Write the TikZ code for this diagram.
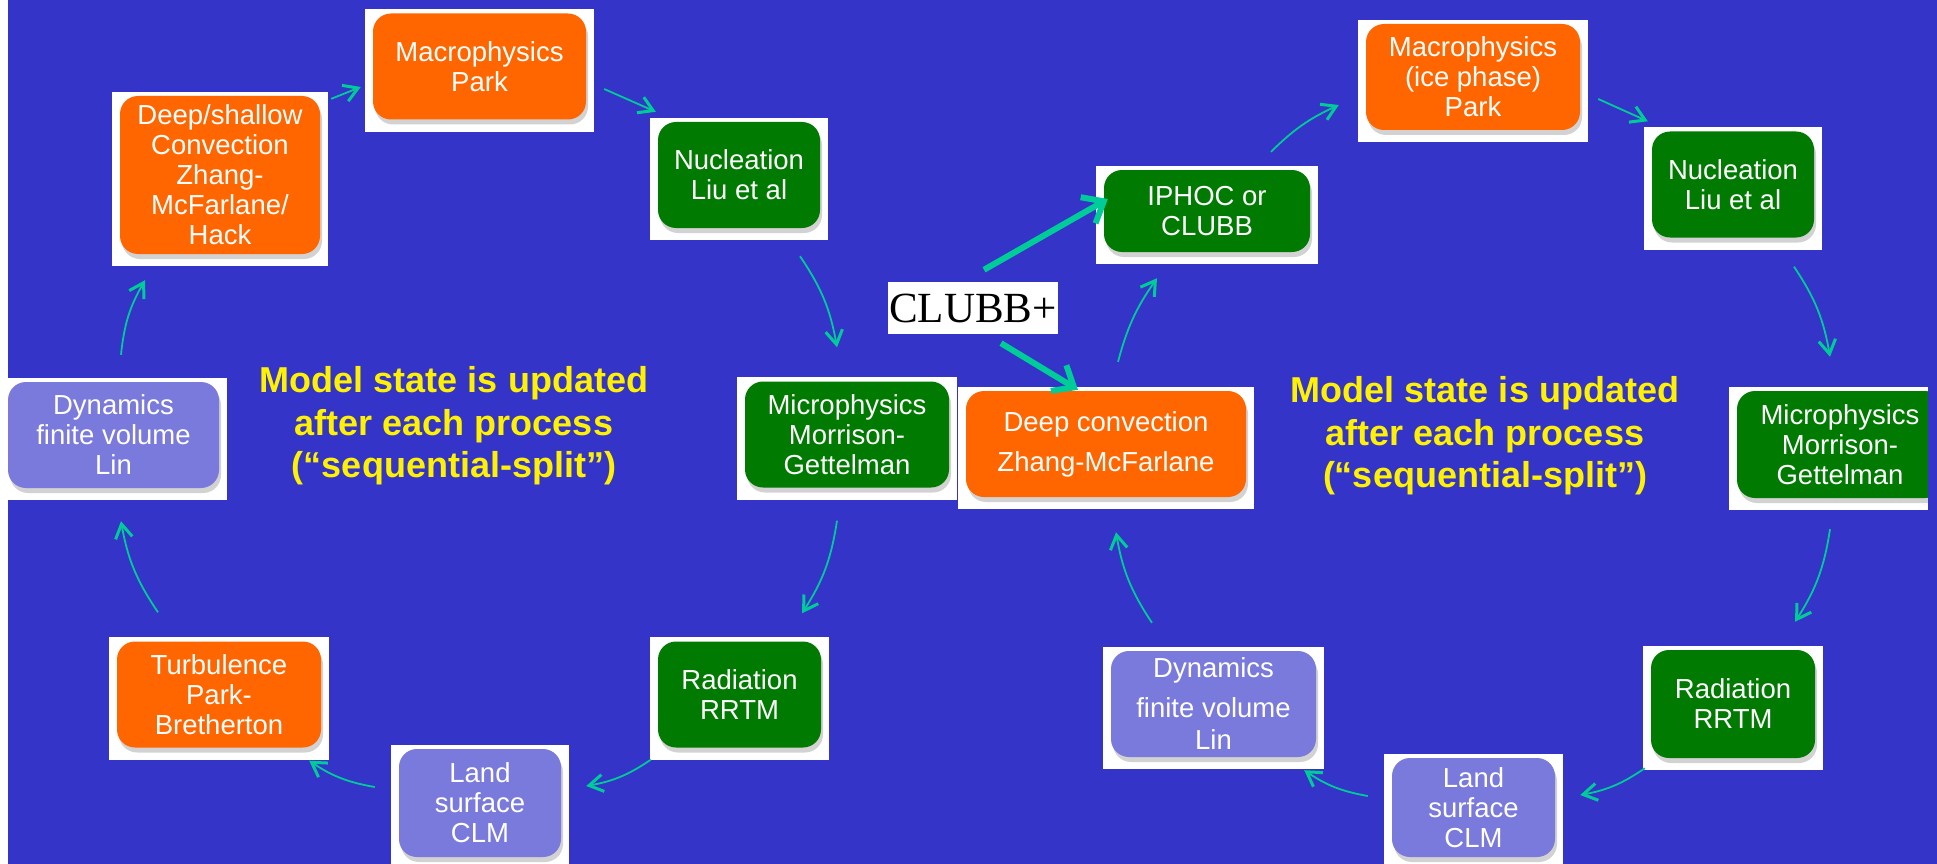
\documentclass[tikz,border=0pt]{standalone}
\usepackage{fontspec}
\setmainfont{Liberation Sans}
\newfontfamily\clubbfont{Liberation Serif}
\usetikzlibrary{arrows.meta,shadows,backgrounds}

\definecolor{slideblue}{RGB}{52,52,200}
\definecolor{boxorange}{RGB}{255,102,0}
\definecolor{boxgreen}{RGB}{0,122,0}
\definecolor{boxlilac}{RGB}{122,122,220}
\definecolor{arrowteal}{RGB}{0,204,153}
\newcommand\procfont{\fontsize{27.5}{30}\selectfont}
\newcommand\notefont{\fontsize{36}{42.5}\selectfont\bfseries}

\begin{document}
\begin{tikzpicture}[x=1pt,y=-1pt]
   \useasboundingbox (0,0) rectangle (1937,864);
   \tikzstyle{proc}=[rounded corners=18pt, minimum height=106pt, inner sep=2pt, text=white, font=\procfont, align=center, drop shadow={shadow xshift=2pt, shadow yshift=-5pt, opacity=.35}]
   \tikzstyle{orangebox}=[proc, fill=boxorange]
   \tikzstyle{greenbox}=[proc, fill=boxgreen]
   \tikzstyle{lilacbox}=[proc, fill=boxlilac]
   \tikzstyle{note}=[text=yellow, font=\notefont, align=center, inner sep=0pt]
   \tikzstyle{flow}=[draw=arrowteal, line width=1.8pt, -{Straight Barb[length=14pt,width=17pt,line width=3pt]}]
   \tikzstyle{bigflow}=[draw=arrowteal, line width=6pt, -{Straight Barb[length=18pt,width=30pt]}]

   % left loop
   \node[orangebox, minimum width=200pt, minimum height=158pt] (deepshallow) at (220,175) {Deep/shallow\\Convection\\Zhang-\\McFarlane/\\Hack};
   \node[orangebox, minimum width=213pt] (macro) at (479.5,66.5) {Macrophysics\\Park};
   \node[greenbox, minimum width=162pt] (nucleation) at (739,175) {Nucleation\\Liu et al};
   \node[greenbox, minimum width=204pt] (micro) at (847,434.5) {Microphysics\\Morrison-\\Gettelman};
   \node[greenbox, minimum width=163pt] (radiation) at (739.5,694.5) {Radiation\\RRTM};
   \node[lilacbox, minimum width=162pt, minimum height=108pt] (land) at (480,803) {Land\\surface\\CLM};
   \node[orangebox, minimum width=204pt] (turbulence) at (219,694.5) {Turbulence\\Park-\\Bretherton};
   \node[lilacbox, minimum width=211pt] (dynamics) at (113.5,435) {Dynamics\\finite volume\\Lin};
   \node[note] (stateleft) at (454,426) {Model state is updated\\after each process\\(“sequential-split”)};

   % right loop
   \node[fill=white, inner sep=0pt, minimum width=170pt, minimum height=52pt, font=\clubbfont\fontsize{43}{50}\selectfont] (clubb) at (973,308) {CLUBB+};
   \node[greenbox, minimum width=206pt, minimum height=82pt] (iphoc) at (1207,211) {IPHOC or\\CLUBB};
   \node[orangebox, minimum width=280pt] (deepconv) at (1106,444) {Deep convection\\[10pt]Zhang-McFarlane};
   \node[orangebox, minimum width=214pt] (macroice) at (1473,77) {Macrophysics\\(ice phase)\\Park};
   \node[greenbox, minimum width=162pt] (nucleation2) at (1733,184.5) {Nucleation\\Liu et al};
   \node[greenbox, minimum width=206pt, minimum height=107pt] (micro2) at (1840,444.5) {Microphysics\\Morrison-\\Gettelman};
   \node[greenbox, minimum width=164pt, minimum height=108pt] (radiation2) at (1733,704) {Radiation\\RRTM};
   \node[lilacbox, minimum width=163pt, minimum height=99pt] (land2) at (1473.5,807.5) {Land\\surface\\CLM};
   \node[lilacbox, minimum width=205pt] (dynamics2) at (1213.5,704) {Dynamics\\[10pt]finite volume\\[2pt]Lin};
   \node[note] (stateright) at (1485,436) {Model state is updated\\after each process\\(“sequential-split”)};
   \fill[slideblue] (1928,370) rectangle (1937,520);

   \draw[flow] ([shift={(11,3)}]deepshallow.north east) -- ([shift={(-12,20.5)}]macro.west);
   \draw[flow] ([shift={(18,22.5)}]macro.east) -- ([shift={(-2,-10)}]nucleation.north west);
   \draw[flow] ([shift={(61,28)}]nucleation.south) to[bend left=12] ([shift={(-10,-34)}]micro.north);
   \draw[flow] ([shift={(-10,33)}]micro.south) to[bend left=12] ([shift={(62.5,-28)}]radiation.north);
   \draw[flow] ([shift={(-7,12)}]radiation.south west) to[bend left=12] ([shift={(25,-17)}]land.east);
   \draw[flow] ([shift={(-24,-16)}]land.west) to[bend left=12] ([shift={(-12,13)}]turbulence.south east);
   \draw[flow] ([shift={(-61,-29)}]turbulence.north) to[bend left=12] ([shift={(7.5,33)}]dynamics.south);
   \draw[flow] ([shift={(7.5,-27)}]dynamics.north) to[bend left=12] ([shift={(-75,26)}]deepshallow.south);

   \draw[bigflow] ([shift={(11,-12)}]clubb.north) -- ([shift={(4,-12)}]iphoc.west);
   \draw[bigflow] ([shift={(28,9)}]clubb.south) -- ([shift={(-28,-1)}]deepconv.north);
   \draw[flow] ([shift={(12,-29)}]deepconv.north) to[bend left=10] ([shift={(-50,26)}]iphoc.south);
   \draw[flow] ([shift={(64,-18)}]iphoc.north) to[bend left=10] ([shift={(-27,28)}]macroice.west);
   \draw[flow] ([shift={(18,22)}]macroice.east) -- ([shift={(-4,-10)}]nucleation2.north west);
   \draw[flow] ([shift={(61,29)}]nucleation2.south) to[bend left=12] ([shift={(-10,-34)}]micro2.north);
   \draw[flow] ([shift={(-10,31)}]micro2.south) to[bend left=12] ([shift={(62,-28)}]radiation2.north);
   \draw[flow] ([shift={(-6,10)}]radiation2.south west) to[bend left=12] ([shift={(25,-12.5)}]land2.east);
   \draw[flow] ([shift={(-24,-11.5)}]land2.west) to[bend left=12] ([shift={(-12,13)}]dynamics2.south east);
   \draw[flow] ([shift={(-61.5,-28)}]dynamics2.north) to[bend left=12] ([shift={(10,35)}]deepconv.south);

   \begin{scope}[on background layer]
      \fill[slideblue] (8,0) rectangle (1937,864);
      \foreach \n in {deepshallow,macro,nucleation,micro,radiation,land,turbulence,dynamics,iphoc,deepconv,macroice,nucleation2,micro2,radiation2,land2,dynamics2}
         \fill[white] ([shift={(-8,-4)}]\n.north west) rectangle ([shift={(8,12)}]\n.south east);
   \end{scope}
\end{tikzpicture}
\end{document}
